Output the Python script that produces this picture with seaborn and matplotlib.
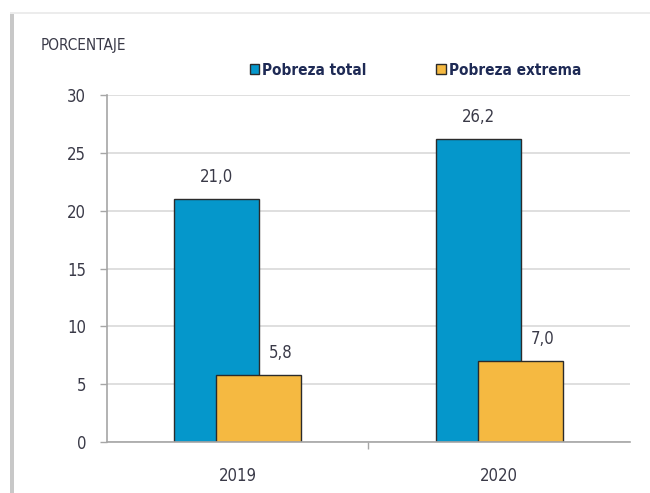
import pandas as pd
import matplotlib.pyplot as plt
from matplotlib.patches import Rectangle
from matplotlib.ticker import FixedLocator, NullFormatter
import seaborn as sns

sns.set_theme(style='white')
plt.rcParams['font.family'] = ['DejaVu Sans']
plt.rcParams['font.stretch'] = 'condensed'

years = ['2019', '2020']
series = ['Pobreza total', 'Pobreza extrema']
total = [21.0, 26.2]
extrema = [5.8, 7.0]
colors = ['#0597CB', '#F5B941']
ink = '#3a3a48'

df = pd.DataFrame({
    'Año': years * 2,
    'Serie': [series[0]] * 2 + [series[1]] * 2,
    'Valor': total + extrema,
})

fig = plt.figure(figsize=(6.5, 4.93), dpi=100)
ax = fig.add_axes([0.1646, 0.1034, 0.8044, 0.7036])

sns.barplot(data=df, x='Año', y='Valor', hue='Serie', hue_order=series,
            palette=colors, saturation=1, width=0.322, gap=-1.02, dodge=True,
            edgecolor='#2b2b2b', linewidth=1.0, ax=ax, legend=False)

# etiquetas: las de pobreza extrema van desplazadas a la derecha
for i, cont in enumerate(ax.containers):
    dx = 0 if i == 0 else 22
    for bar, v in zip(cont, cont.datavalues):
        ax.annotate(f'{v:.1f}'.replace('.', ','),
                    xy=(bar.get_x() + bar.get_width() / 2, bar.get_height()),
                    xytext=(dx, 13), textcoords='offset pixels',
                    ha='center', va='bottom', fontsize=12, color=ink)

ax.set_ylim(0, 30)
ax.set_xlim(-0.5, 1.5)
ax.set_yticks(range(0, 31, 5))
ax.yaxis.grid(True, color='#d9d9d9', linewidth=1.2)
ax.set_axisbelow(True)
ax.tick_params(axis='y', left=True, length=5, width=1, color='#a6a6a6',
               labelsize=12, labelcolor=ink, pad=10)
ax.tick_params(axis='x', bottom=False, labelsize=12, labelcolor=ink, pad=12)
ax.xaxis.set_minor_locator(FixedLocator([0.5]))
ax.xaxis.set_minor_formatter(NullFormatter())
ax.tick_params(axis='x', which='minor', bottom=True, length=5, width=1, color='#a6a6a6')
ax.set_xlabel('')
ax.set_ylabel('')
for s in ['top', 'right']:
    ax.spines[s].set_visible(False)
for s in ['left', 'bottom']:
    ax.spines[s].set_color('#a6a6a6')
    ax.spines[s].set_linewidth(1.2)

handles = [Rectangle((0, 0), 1, 1, facecolor=c, edgecolor='#2b2b2b', linewidth=1) for c in colors]
leg = fig.legend(handles, series, loc='center', bbox_to_anchor=(0.639, 0.858), ncol=2,
                 frameon=False, handlelength=0.6, handleheight=0.6, handletextpad=0.2,
                 columnspacing=4.6, prop={'size': 11, 'weight': 'bold', 'stretch': 'condensed'})
for t in leg.get_texts():
    t.set_color('#1e2a55')

fig.text(0.062, 0.908, 'PORCENTAJE', fontsize=11, color=ink, ha='left', va='center')

# marco del recuadro
fig.add_artist(Rectangle((0.016, 0), 0.005, 0.975, transform=fig.transFigure,
                         facecolor='#c8c8c8', edgecolor='none'))
fig.add_artist(Rectangle((0.016, 0.972), 0.984, 0.004, transform=fig.transFigure,
                         facecolor='#ececec', edgecolor='none'))

fig.savefig('out.png', dpi=100)
